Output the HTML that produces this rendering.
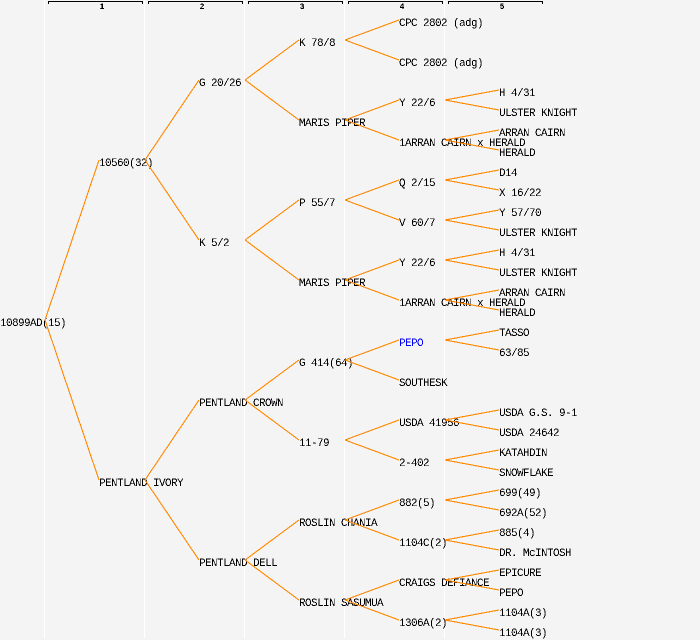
<!DOCTYPE html>
<html>
<head>
<meta charset="utf-8">
<style>
html,body{margin:0;padding:0;background:#f4f4f4;width:700px;height:640px;overflow:hidden}
svg{display:block}
text{font-family:"Liberation Mono","DejaVu Sans Mono",monospace;font-size:11px;letter-spacing:-0.6px;fill:#000}
text.h{font-size:8px;font-weight:bold;letter-spacing:0;text-anchor:middle}
.c line{stroke:#ff8800;stroke-width:1.1}
.g line{stroke:#fff;stroke-width:1}
.b path{stroke:#000;stroke-width:1;fill:none}
</style>
</head>
<body>
<svg width="700" height="640" viewBox="0 0 700 640" xmlns="http://www.w3.org/2000/svg">
<defs>
<filter id="t" filterUnits="userSpaceOnUse" x="0" y="0" width="700" height="640" color-interpolation-filters="sRGB">
<feComponentTransfer><feFuncA type="discrete" tableValues="0 1"/></feComponentTransfer>
</filter>
</defs>
<rect width="700" height="640" fill="#f4f4f4"/>
<g class="g" shape-rendering="crispEdges">
<line x1="44.5" y1="0" x2="44.5" y2="638"/>
<line x1="144.5" y1="0" x2="144.5" y2="638"/>
<line x1="244.5" y1="0" x2="244.5" y2="638"/>
<line x1="344.5" y1="0" x2="344.5" y2="638"/>
<line x1="444.5" y1="0" x2="444.5" y2="638"/>
</g>
<g class="b" shape-rendering="crispEdges">
<path d="M48.5 4V1.5H142.5V4"/>
<path d="M148.5 4V1.5H242.5V4"/>
<path d="M248.5 4V1.5H342.5V4"/>
<path d="M348.5 4V1.5H442.5V4"/>
<path d="M448.5 4V1.5H542.5V4"/>
</g>
<g filter="url(#t)">
<text class="h" x="102" y="9">1</text>
<text class="h" x="202" y="9">2</text>
<text class="h" x="302" y="9">3</text>
<text class="h" x="402" y="9">4</text>
<text class="h" x="502" y="9">5</text>

<text x="0" y="326">10899AD(15)</text>

<text x="99" y="166">10560(32)</text>
<text x="99" y="486">PENTLAND IVORY</text>

<text x="199" y="86">G 20/26</text>
<text x="199" y="246">K 5/2</text>
<text x="199" y="406">PENTLAND CROWN</text>
<text x="199" y="566">PENTLAND DELL</text>

<text x="299" y="46">K 78/8</text>
<text x="299" y="126">MARIS PIPER</text>
<text x="299" y="206">P 55/7</text>
<text x="299" y="286">MARIS PIPER</text>
<text x="299" y="366">G 414(64)</text>
<text x="299" y="446">11-79</text>
<text x="299" y="526">ROSLIN CHANIA</text>
<text x="299" y="606">ROSLIN SASUMUA</text>

<text x="399" y="26">CPC 2802 (adg)</text>
<text x="399" y="66">CPC 2802 (adg)</text>
<text x="399" y="106">Y 22/6</text>
<text x="399" y="146">1ARRAN CAIRN x HERALD</text>
<text x="399" y="186">Q 2/15</text>
<text x="399" y="226">V 60/7</text>
<text x="399" y="266">Y 22/6</text>
<text x="399" y="306">1ARRAN CAIRN x HERALD</text>
<text x="399" y="346" style="fill:#0000ff">PEPO</text>
<text x="399" y="386">SOUTHESK</text>
<text x="399" y="426">USDA 41956</text>
<text x="399" y="466">2-402</text>
<text x="399" y="506">882(5)</text>
<text x="399" y="546">1104C(2)</text>
<text x="399" y="586">CRAIGS DEFIANCE</text>
<text x="399" y="626">1306A(2)</text>

<text x="499" y="96">H 4/31</text>
<text x="499" y="116">ULSTER KNIGHT</text>
<text x="499" y="136">ARRAN CAIRN</text>
<text x="499" y="156">HERALD</text>
<text x="499" y="176">D14</text>
<text x="499" y="196">X 16/22</text>
<text x="499" y="216">Y 57/70</text>
<text x="499" y="236">ULSTER KNIGHT</text>
<text x="499" y="256">H 4/31</text>
<text x="499" y="276">ULSTER KNIGHT</text>
<text x="499" y="296">ARRAN CAIRN</text>
<text x="499" y="316">HERALD</text>
<text x="499" y="336">TASSO</text>
<text x="499" y="356">63/85</text>
<text x="499" y="416">USDA G.S. 9-1</text>
<text x="499" y="436">USDA 24642</text>
<text x="499" y="456">KATAHDIN</text>
<text x="499" y="476">SNOWFLAKE</text>
<text x="499" y="496">699(49)</text>
<text x="499" y="516">692A(52)</text>
<text x="499" y="536">885(4)</text>
<text x="499" y="556">DR. McINTOSH</text>
<text x="499" y="576">EPICURE</text>
<text x="499" y="596">PEPO</text>
<text x="499" y="616">1104A(3)</text>
<text x="499" y="636">1104A(3)</text>
</g>

<g class="c" shape-rendering="crispEdges">
<line x1="45" y1="320" x2="99" y2="160"/><line x1="45" y1="320" x2="99" y2="480"/>

<line x1="145" y1="160" x2="199" y2="80"/><line x1="145" y1="160" x2="199" y2="240"/>
<line x1="145" y1="480" x2="199" y2="400"/><line x1="145" y1="480" x2="199" y2="560"/>

<line x1="245" y1="80" x2="299" y2="40"/><line x1="245" y1="80" x2="299" y2="120"/>
<line x1="245" y1="240" x2="299" y2="200"/><line x1="245" y1="240" x2="299" y2="280"/>
<line x1="245" y1="400" x2="299" y2="360"/><line x1="245" y1="400" x2="299" y2="440"/>
<line x1="245" y1="560" x2="299" y2="520"/><line x1="245" y1="560" x2="299" y2="600"/>

<line x1="345" y1="40" x2="399" y2="20"/><line x1="345" y1="40" x2="399" y2="60"/>
<line x1="345" y1="120" x2="399" y2="100"/><line x1="345" y1="120" x2="399" y2="140"/>
<line x1="345" y1="200" x2="399" y2="180"/><line x1="345" y1="200" x2="399" y2="220"/>
<line x1="345" y1="280" x2="399" y2="260"/><line x1="345" y1="280" x2="399" y2="300"/>
<line x1="345" y1="360" x2="399" y2="340"/><line x1="345" y1="360" x2="399" y2="380"/>
<line x1="345" y1="440" x2="399" y2="420"/><line x1="345" y1="440" x2="399" y2="460"/>
<line x1="345" y1="520" x2="399" y2="500"/><line x1="345" y1="520" x2="399" y2="540"/>
<line x1="345" y1="600" x2="399" y2="580"/><line x1="345" y1="600" x2="399" y2="620"/>

<line x1="445" y1="100" x2="499" y2="90"/><line x1="445" y1="100" x2="499" y2="110"/>
<line x1="445" y1="140" x2="499" y2="130"/><line x1="445" y1="140" x2="499" y2="150"/>
<line x1="445" y1="180" x2="499" y2="170"/><line x1="445" y1="180" x2="499" y2="190"/>
<line x1="445" y1="220" x2="499" y2="210"/><line x1="445" y1="220" x2="499" y2="230"/>
<line x1="445" y1="260" x2="499" y2="250"/><line x1="445" y1="260" x2="499" y2="270"/>
<line x1="445" y1="300" x2="499" y2="290"/><line x1="445" y1="300" x2="499" y2="310"/>
<line x1="445" y1="340" x2="499" y2="330"/><line x1="445" y1="340" x2="499" y2="350"/>
<line x1="445" y1="420" x2="499" y2="410"/><line x1="445" y1="420" x2="499" y2="430"/>
<line x1="445" y1="460" x2="499" y2="450"/><line x1="445" y1="460" x2="499" y2="470"/>
<line x1="445" y1="500" x2="499" y2="490"/><line x1="445" y1="500" x2="499" y2="510"/>
<line x1="445" y1="540" x2="499" y2="530"/><line x1="445" y1="540" x2="499" y2="550"/>
<line x1="445" y1="580" x2="499" y2="570"/><line x1="445" y1="580" x2="499" y2="590"/>
<line x1="445" y1="620" x2="499" y2="610"/><line x1="445" y1="620" x2="499" y2="630"/>
</g>
</svg>
</body>
</html>
